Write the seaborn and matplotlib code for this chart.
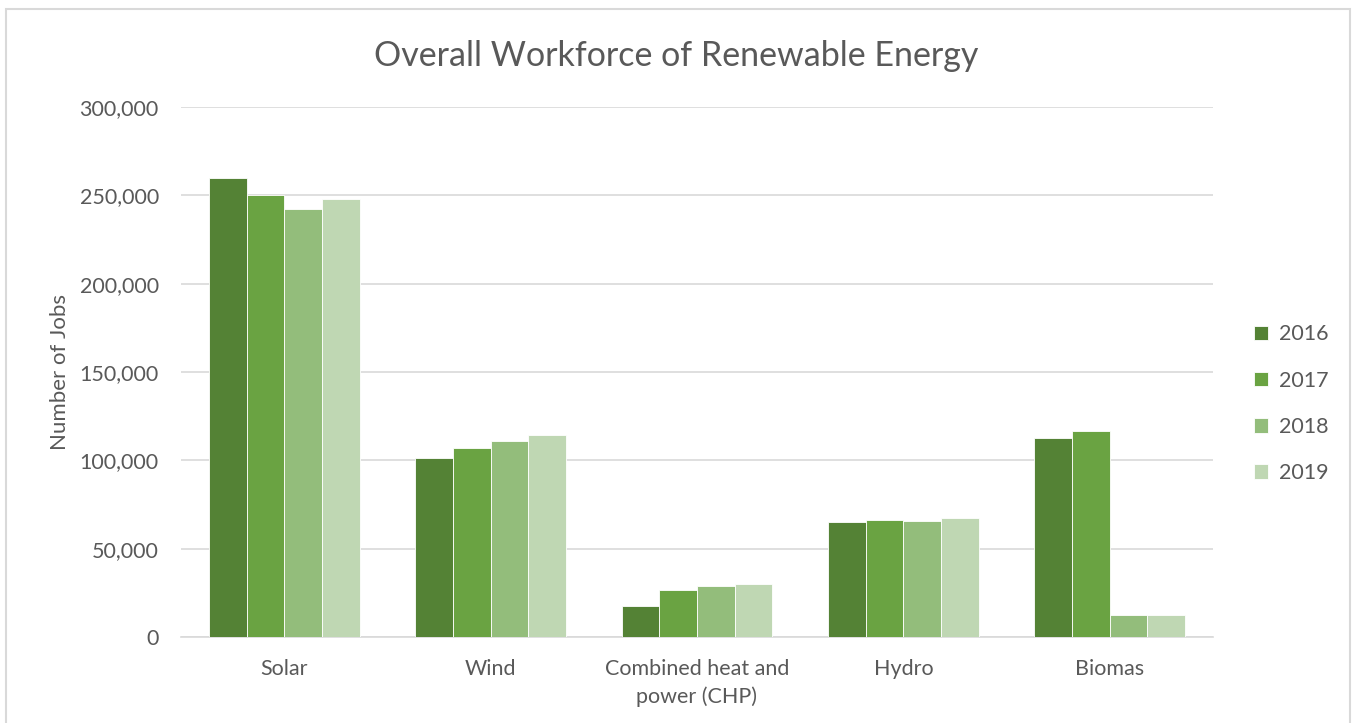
import pandas as pd
import numpy as np
import matplotlib.pyplot as plt
import seaborn as sns
from matplotlib.ticker import FuncFormatter
from matplotlib.patches import Rectangle

# data
sources = ["Solar", "Wind", "Combined heat and\npower (CHP)", "Hydro", "Biomas"]
years = ["2016", "2017", "2018", "2019"]
jobs_2016 = [260000, 101500, 17600, 65200, 112400]
jobs_2017 = [250000, 107000, 26800, 66300, 116400]
jobs_2018 = [242500, 110900, 28700, 65900, 12600]
jobs_2019 = [247700, 114300, 29900, 67500, 12600]

colors = ["#548235", "#6aa342", "#93bd7b", "#bfd7b3"]
text_color = "#595959"

df = pd.DataFrame({
    "Source": sources * 4,
    "Year": np.repeat(years, len(sources)),
    "Jobs": jobs_2016 + jobs_2017 + jobs_2018 + jobs_2019,
})

sns.set_theme(style="white")
plt.rcParams['font.family'] = ['Lato', 'DejaVu Sans']

fig = plt.figure(figsize=(13.52, 7.23), dpi=100)
ax = fig.add_axes([181 / 1352, 1 - 637 / 723, (1213 - 181) / 1352, (637 - 107) / 723])

sns.barplot(data=df, x="Source", y="Jobs", hue="Year", palette=colors,
            width=0.73, gap=0, ax=ax, edgecolor="white", linewidth=0.6,
            errorbar=None, saturation=1, zorder=3)

ax.set_ylim(0, 300000)
ax.set_yticks(np.arange(0, 300001, 50000))
ax.yaxis.set_major_formatter(FuncFormatter(lambda v, p: f"{int(v):,}"))
ax.grid(axis="y", color="#d9d9d9", linewidth=1.2, zorder=0)
ax.set_axisbelow(True)
for s in ["top", "right", "left"]:
    ax.spines[s].set_visible(False)
ax.spines["bottom"].set_color("#d9d9d9")
ax.spines["bottom"].set_linewidth(1.2)

ax.tick_params(axis="both", length=0, labelsize=15.5, labelcolor=text_color)
ax.tick_params(axis="y", pad=16)
ax.tick_params(axis="x", pad=16)
for lbl in ax.get_xticklabels():
    lbl.set_linespacing(1.45)
ax.set_xlabel("")
ax.set_ylabel("Number of Jobs", fontsize=16, color=text_color, labelpad=7)

fig.text(0.5, 1 - 56 / 723, "Overall Workforce of Renewable Energy", fontsize=24.5,
         color=text_color, ha="center", va="center")

leg = ax.legend(loc="center left", bbox_to_anchor=(1.04, 0.44), frameon=False,
                fontsize=15.5, handlelength=0.65, handleheight=0.65,
                labelspacing=1.22, handletextpad=0.5, borderaxespad=0, borderpad=0)
for t in leg.get_texts():
    t.set_color(text_color)

# outer chart border
fig.patches.append(Rectangle((6 / 1352, -0.05), (1350 - 6) / 1352, 1.05 - 9 / 723,
                             transform=fig.transFigure, fill=False,
                             edgecolor="#d9d9d9", linewidth=1.5))

plt.savefig("out.png", dpi=100)
